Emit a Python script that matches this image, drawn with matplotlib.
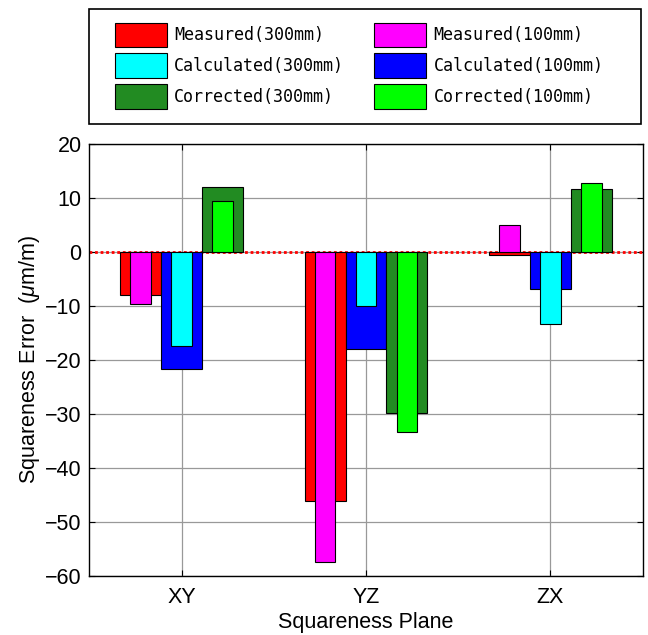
import numpy as np
import matplotlib
matplotlib.use("Agg")
from matplotlib import pyplot as plt
from matplotlib.patches import Rectangle

# squareness error per plane (um/m)
planes = ["XY", "YZ", "ZX"]
measured_300 = [-8.0, -46.1, -0.5]
measured_100 = [-9.6, -57.4, 5.0]
calculated_300 = [-17.4, -10.0, -13.4]
calculated_100 = [-21.7, -17.9, -6.8]
corrected_300 = [12.1, -29.8, 11.6]
corrected_100 = [9.5, -33.3, 12.8]

plt.rcParams["font.family"] = ["Liberation Sans", "DejaVu Sans"]
plt.rcParams["mathtext.fontset"] = "custom"
plt.rcParams["mathtext.it"] = "Liberation Sans:italic"
plt.rcParams["mathtext.rm"] = "Liberation Sans"

fig = plt.figure(figsize=(6.48, 6.35), dpi=100)
ax = fig.add_axes([89.3 / 648, 1 - 576 / 635, 553.4 / 648, 432 / 635])

x = np.arange(1, len(planes) + 1)
wide = 0.222
narrow = 0.11
step = 0.222
edge = dict(edgecolor="black", linewidth=0.8, zorder=3)

# wide bars first, narrow bars drawn on top of them
b_m300 = ax.bar(x - step, measured_300, wide, color="#ff0000", **edge)
b_c100 = ax.bar(x, calculated_100, wide, color="#0000ff", **edge)
b_co300 = ax.bar(x + step, corrected_300, wide, color="#228b22", **edge)
b_m100 = ax.bar(x - step, measured_100, narrow, color="#ff00ff", **edge)
b_c300 = ax.bar(x, calculated_300, narrow, color="#00ffff", **edge)
b_co100 = ax.bar(x + step, corrected_100, narrow, color="#00ff00", **edge)

ax.axhline(0, color="red", linestyle=(0, (1, 1)), linewidth=2, zorder=2)

ax.set_xlim(0.5, 3.5)
ax.set_ylim(-60, 20)
ax.set_xticks(x)
ax.set_xticklabels(planes)
ax.set_yticks(np.arange(-60, 21, 10))
ax.grid(True, color="0.6", linewidth=0.9, zorder=0)
ax.set_axisbelow(True)
ax.tick_params(direction="in", length=4, width=0.8, top=True, right=True,
               labelsize=15.5, colors="black")
ax.tick_params(axis="y", pad=5.5)
ax.tick_params(axis="x", pad=8)
for s in ax.spines.values():
    s.set_linewidth(1.0)

ax.set_xlabel("Squareness Plane", fontsize=15.5, labelpad=3)
ax.set_ylabel(r"Squareness Error  ($\mu$m/m)", fontsize=15.5, labelpad=2)

handles = [b_m300, b_c300, b_co300, b_m100, b_c100, b_co100]
labels = ["Measured(300mm)", "Calculated(300mm)", "Corrected(300mm)",
          "Measured(100mm)", "Calculated(100mm)", "Corrected(100mm)"]
fig.legend(handles, labels, loc="upper left",
           bbox_to_anchor=(115 / 648, 1 - 22.7 / 635), ncol=2, frameon=False,
           borderpad=0, borderaxespad=0, handlelength=3.1, handleheight=1.9,
           labelspacing=0.36, handletextpad=0.46, columnspacing=1.79,
           prop={"family": "DejaVu Sans Mono", "size": 12})
fig.add_artist(Rectangle((89 / 648, 1 - 124 / 635), 552 / 648, 115 / 635,
                         transform=fig.transFigure, fill=False,
                         edgecolor="black", linewidth=1.2))

fig.savefig("out.png", dpi=100)
